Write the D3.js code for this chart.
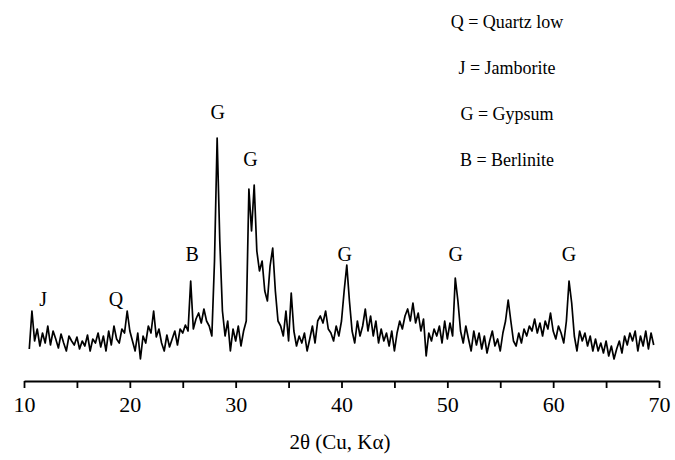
<!DOCTYPE html>
<html><head><meta charset="utf-8">
<script src="https://cdn.jsdelivr.net/npm/d3@7"></script>
<style>body{margin:0;background:#fff}text{font-family:"Liberation Serif","Times New Roman",serif}</style>
</head><body>
<script>
const width = 675, height = 460;

// intensity (arbitrary units) from 10.5 deg, step 0.25 deg
const start = 10.5, step = 0.25;
const intensity = [
  32, 70,
  40, 52, 35, 48,  38, 55, 36, 50,  42, 33, 47, 38,  30, 45, 40, 36,
  44, 32, 40, 35,  46, 30, 42, 38,  48, 34, 45, 30,  50, 36, 55, 42,
  38, 52, 48, 70,  50, 40, 30, 48,  22, 45, 38, 55,  48, 70, 44, 52,
  38, 30, 46, 34,  42, 50, 36, 52,  48, 56, 50, 100, 52, 62, 68, 58,
  72, 60, 55, 45,  120, 243, 140, 70, 45, 60, 30, 52, 40, 55, 35, 50,
  60, 192, 150, 196, 130, 110, 120, 90, 80, 115, 133, 90, 60, 55, 45, 70,
  40, 88, 50, 35,  45, 38, 48, 30,  42, 55, 38, 60,  65, 58, 70, 52,
  48, 40, 55, 45,  60, 90, 116, 80, 50, 38, 60, 45,  55, 72, 50, 65,
  45, 60, 38, 52,  40, 48, 35, 50,  30, 48, 60, 52,  65, 72, 60, 78,
  58, 68, 50, 62,  25, 48, 40, 52,  45, 55, 38, 60,  42, 58, 45, 103,
  80, 50, 38, 55,  42, 30, 50, 36,  48, 32, 45, 28,  40, 50, 35, 42,
  30, 48, 60, 81,  60, 40, 35, 48,  38, 52, 45, 55,  50, 62, 48, 58,
  45, 60, 52, 68,  50, 42, 55, 48,  38, 60, 100, 78, 45, 30, 50, 40,
  48, 35, 45, 30,  42, 30, 38, 28,  40, 25, 35, 22,  32, 40, 28, 45,
  36, 48, 40, 50,  30, 45, 35, 50,  32, 48, 36
];
const data = intensity.map((v, i) => ({ t: start + i * step, v }));

const peakLabels = ["J", "Q", "B", "G", "G", "G", "G", "G"];
const peakAngles = [11.8, 18.7, 25.9, 28.3, 31.4, 40.3, 50.8, 61.5];
const peakLevels = [75, 75, 120, 262, 215, 120, 120, 120];

const legend = ["Q = Quartz low", "J = Jamborite", "G = Gypsum", "B = Berlinite"];
const xTicks = [10, 15, 20, 25, 30, 35, 40, 45, 50, 55, 60, 65, 70];

const svg = d3.select("body").append("svg").attr("width", width).attr("height", height);

const x = d3.scaleLinear().domain([10, 70]).range([24, 659]);
const y = d3.scaleLinear().domain([0, 260]).range([381, 121]);

// axis
const ax = svg.append("g").attr("transform", "translate(0,381)")
  .call(d3.axisBottom(x).tickValues(xTicks).tickSize(7).tickSizeOuter(0)
    .tickFormat(d => d % 10 === 0 ? d : ""));
ax.select(".domain").attr("stroke-width", 1.8);
ax.selectAll(".tick line").attr("stroke-width", 1.8);
ax.selectAll(".tick text").attr("font-size", 22).attr("dy", "0.95em").attr("fill", "#000");

svg.append("text").attr("x", 340).attr("y", 449).attr("text-anchor", "middle")
  .attr("font-size", 21).text("2θ (Cu, Kα)");

// pattern
svg.append("path").datum(data)
  .attr("fill", "none").attr("stroke", "#000").attr("stroke-width", 1.7)
  .attr("stroke-linejoin", "round")
  .attr("d", d3.line().x(d => x(d.t)).y(d => y(d.v)));

// peak labels
svg.selectAll(".pk").data(peakLabels).enter().append("text")
  .attr("x", (d, i) => x(peakAngles[i])).attr("y", (d, i) => y(peakLevels[i]))
  .attr("text-anchor", "middle").attr("font-size", 20).text(d => d);

// legend
svg.selectAll(".lg").data(legend).enter().append("text")
  .attr("x", 507).attr("y", (d, i) => 28 + i * 46)
  .attr("text-anchor", "middle").attr("font-size", 18).text(d => d);
</script>
</body></html>
